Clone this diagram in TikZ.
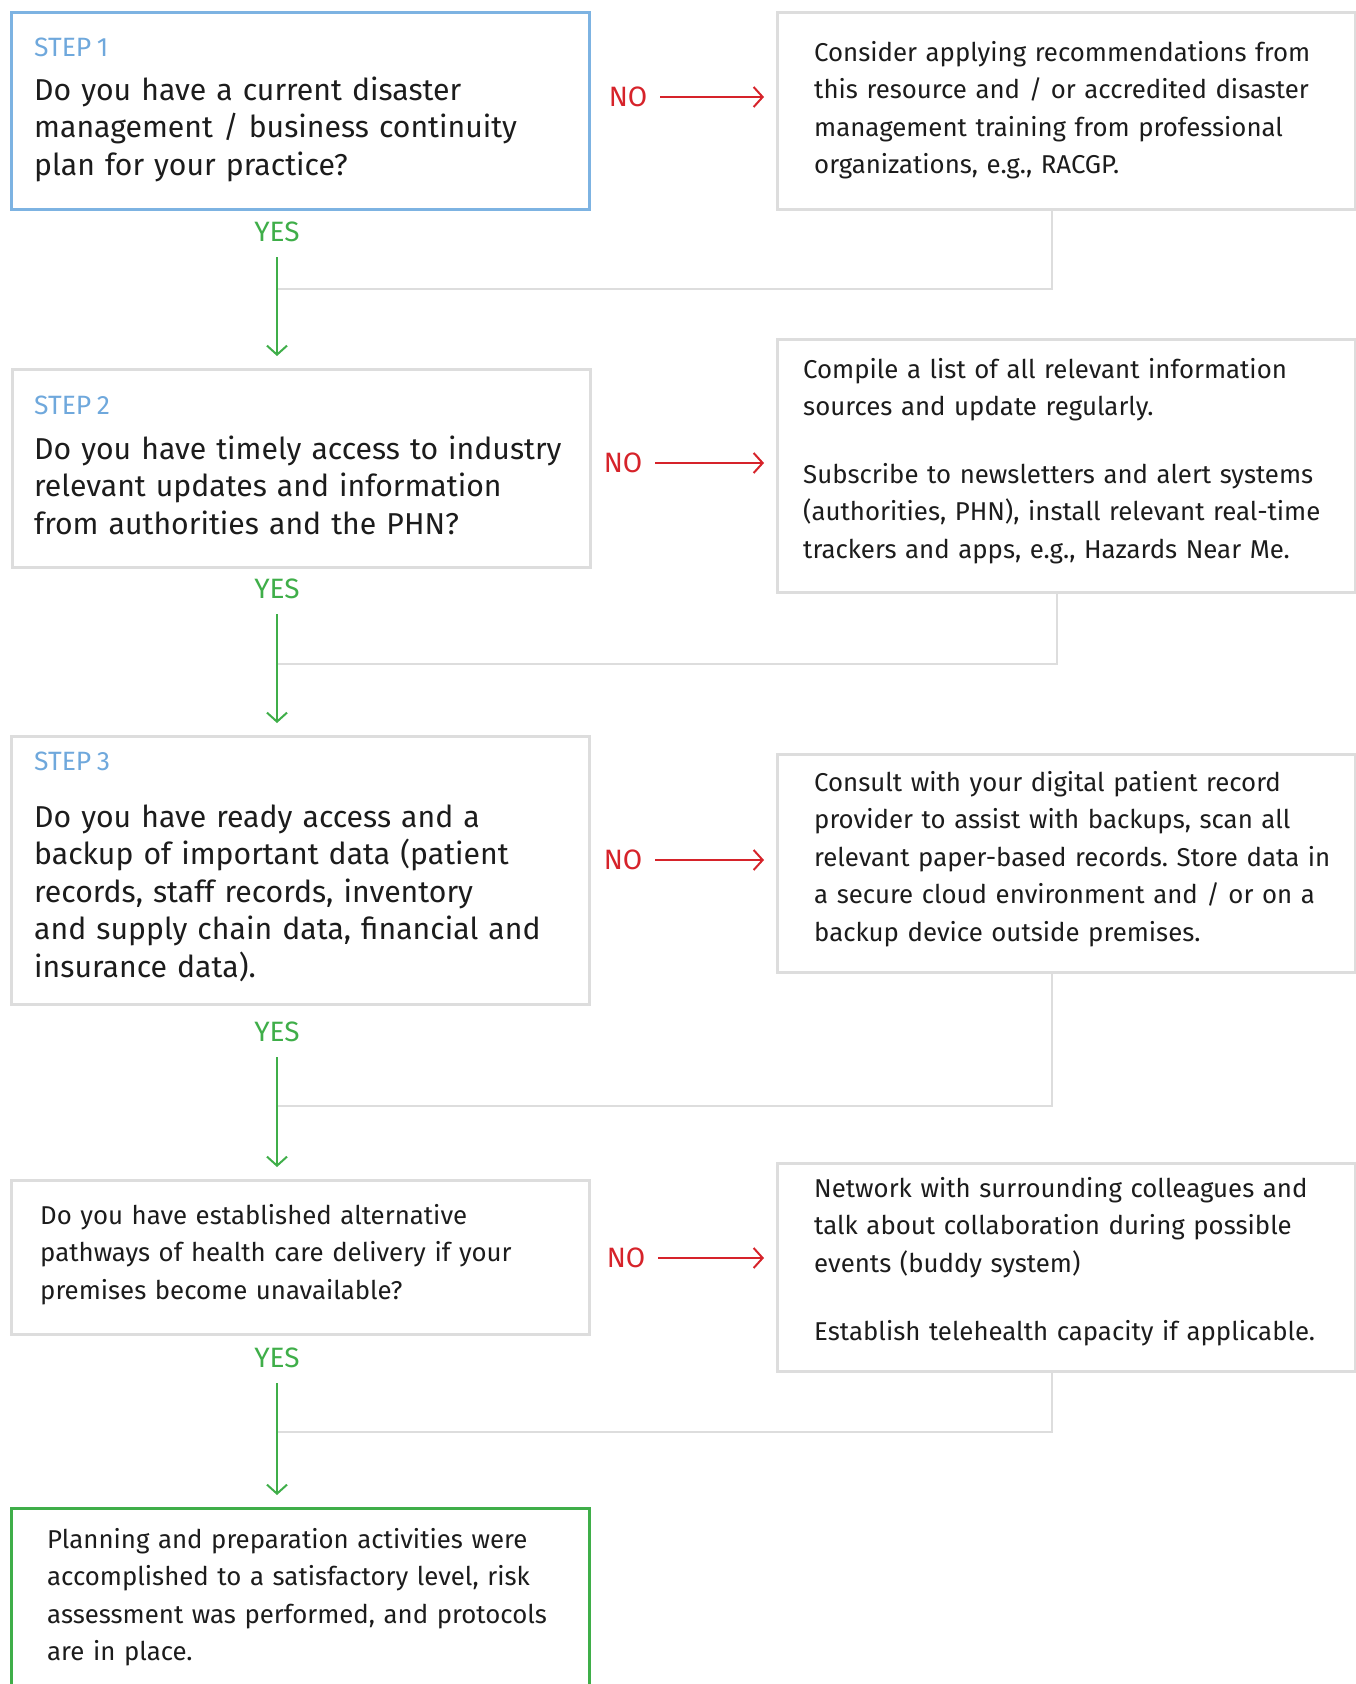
\documentclass[tikz,border=0pt]{standalone}
\usepackage{fontspec}
\setmainfont{Fira Sans}[WordSpace=0.8]
\frenchspacing
\usetikzlibrary{arrows.meta,calc}
\definecolor{stepblue}{HTML}{6FA8DC}
\definecolor{boxblue}{HTML}{7DB3E2}
\definecolor{nored}{HTML}{D6232A}
\definecolor{yesgreen}{HTML}{3FAE49}
\definecolor{boxgray}{HTML}{DDDDDD}
\definecolor{txt}{HTML}{1C1C1C}
\begin{document}
\begin{tikzpicture}[x=1pt,y=-1pt,
  box/.style={draw=boxgray, line width=2.5pt, minimum width=578pt, anchor=north west, inner sep=0pt},
  bigtxt/.style={font=\fontsize{30.2}{37.6}\selectfont, text width=560pt, align=left, inner sep=0pt, text=txt, anchor=base west},
  smalltxt/.style={font=\fontsize{25.8}{37.6}\selectfont, text width=540pt, align=left, inner sep=0pt, text=txt, anchor=base west},
  steplbl/.style={font=\fontsize{26.5}{28}\selectfont, text=stepblue, inner sep=0pt, anchor=base west},
  nolbl/.style={font=\fontsize{28}{28}\selectfont, text=nored, inner sep=0pt},
  yeslbl/.style={font=\fontsize{28}{28}\selectfont, text=yesgreen, inner sep=0pt},
  noarrow/.style={draw=nored, line width=2pt, -{Straight Barb[length=9pt,width=20pt,line width=2pt]}, shorten <=13pt, shorten >=12pt},
  yesarrow/.style={draw=yesgreen, line width=2pt, -{Straight Barb[length=9pt,width=20pt,line width=2pt]}, shorten <=15pt, shorten >=12pt},
  ret/.style={draw=boxgray, line width=2.5pt}
]
\useasboundingbox (0,0) rectangle (1355,1684);

% boxes
\node[box, draw=boxblue, minimum height=197pt] (q1) at (10,11) {};
\node[box, minimum height=197pt] (r1) at (776,11) {};
\node[box, minimum height=198pt] (q2) at (11,368) {};
\node[box, minimum height=253pt] (r2) at (776,338) {};
\node[box, minimum height=268pt] (q3) at (10,735) {};
\node[box, minimum height=218pt] (r3) at (776,753) {};
\node[box, minimum height=154pt] (q4) at (10,1179) {};
\node[box, minimum height=208pt] (r4) at (776,1162) {};
\node[box, draw=yesgreen, minimum height=260pt] (fin) at (10,1507) {};

% texts
\node[steplbl] (s1) at (34,56) {STEP 1};
\node[bigtxt] (q1t) at (34,100) {Do you have a current disaster\\management / business continuity\\plan for your practice?};
\node[smalltxt] (r1t) at (814,61) {Consider applying recommendations from\\this resource and / or accredited disaster\\management training from professional\\organizations, e.g., RACGP.};

\node[steplbl] (s2) at (34,414) {STEP 2};
\node[bigtxt] (q2t) at (34,459) {Do you have timely access to industry\\relevant updates and information\\from authorities and the PHN?};
\node[smalltxt] (r2t) at (803,378) {Compile a list of all relevant information\\sources and update regularly.\\[30pt]Subscribe to newsletters and alert systems\\(authorities, PHN), install relevant real-time\\trackers and apps, e.g., Hazards Near Me.};

\node[steplbl] (s3) at (34,770) {STEP 3};
\node[bigtxt] (q3t) at (34,827) {Do you have ready access and a\\backup of important data (patient\\records, staff records, inventory\\and supply chain data, financial and\\insurance data).};
\node[smalltxt] (r3t) at (814,791) {Consult with your digital patient record\\provider to assist with backups, scan all\\relevant paper-based records. Store data in\\a secure cloud environment and / or on a\\backup device outside premises.};

\node[smalltxt] (q4t) at (40,1224) {Do you have established alternative\\pathways of health care delivery if your\\premises become unavailable?};
\node[smalltxt] (r4t) at (814,1197) {Network with surrounding colleagues and\\talk about collaboration during possible\\events (buddy system)\\[31pt]Establish telehealth capacity if applicable.};

\node[smalltxt] (fint) at (47,1548) {Planning and preparation activities were\\accomplished to a satisfactory level, risk\\assessment was performed, and protocols\\are in place.};

% labels
\node[nolbl] (no1) at (628,97) {NO};
\node[nolbl] (no2) at (623,463) {NO};
\node[nolbl] (no3) at (623,860) {NO};
\node[nolbl] (no4) at (626,1258) {NO};
\node[yeslbl] (yes1) at (277,232) {YES};
\node[yeslbl] (yes2) at (277,589) {YES};
\node[yeslbl] (yes3) at (277,1032) {YES};
\node[yeslbl] (yes4) at (277,1358) {YES};

% return lines
\coordinate (c1) at (1052,289);
\coordinate (c2) at (1057,664);
\coordinate (c3) at (1052,1106);
\coordinate (c4) at (1052,1432);
\draw[ret] (c1 |- r1.south) -- (c1) -- (c1 -| yes1);
\draw[ret] (c2 |- r2.south) -- (c2) -- (c2 -| yes2);
\draw[ret] (c3 |- r3.south) -- (c3) -- (c3 -| yes3);
\draw[ret] (c4 |- r4.south) -- (c4) -- (c4 -| yes4);

% arrows
\draw[noarrow] (no1.east) -- (no1.east -| r1.west);
\draw[noarrow] (no2.east) -- (no2.east -| r2.west);
\draw[noarrow] (no3.east) -- (no3.east -| r3.west);
\draw[noarrow] (no4.east) -- (no4.east -| r4.west);
\draw[yesarrow] (yes1.south) -- (yes1.south |- q2.north);
\draw[yesarrow] (yes2.south) -- (yes2.south |- q3.north);
\draw[yesarrow] (yes3.south) -- (yes3.south |- q4.north);
\draw[yesarrow] (yes4.south) -- (yes4.south |- fin.north);
\end{tikzpicture}
\end{document}
